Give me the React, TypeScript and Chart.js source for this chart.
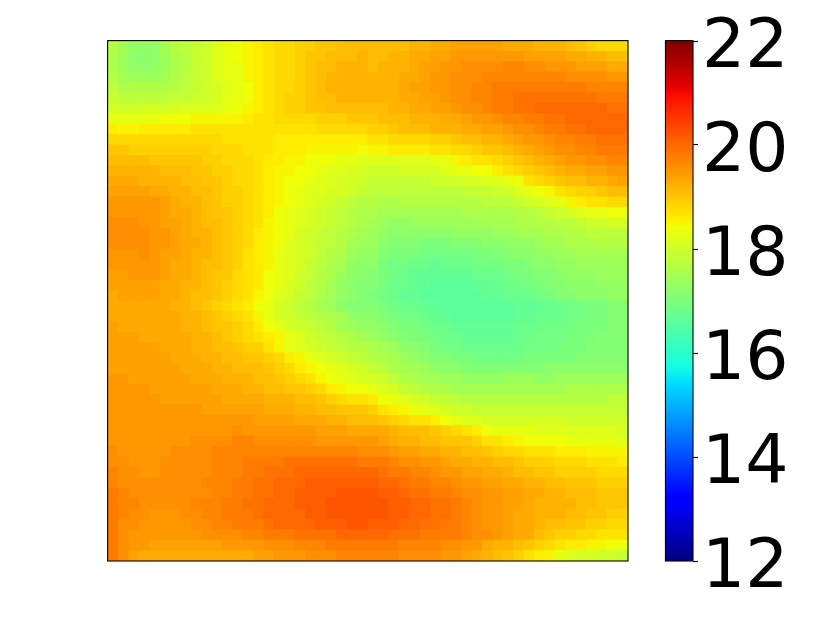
import { useEffect, useRef } from "react";
import { Chart, registerables } from "chart.js";

Chart.register(...registerables);

const colorbarMin = 12;
const colorbarMax = 22;
const colorbarTicks = [12, 14, 16, 18, 20, 22];

// Heat values, in tenths of a unit, 50 x 50 cells, top row first.
const heatTenths: number[][] = [
[177,175,173,173,173,175,177,178,179,180,182,183,184,185,186,187,188,188,189,189,190,190,191,191,191,191,191,191,191,192,192,193,193,194,194,194,194,194,193,193,193,192,192,192,191,190,189,188,188,188],
[176,174,172,172,172,174,176,177,179,180,182,183,184,185,186,187,188,188,189,190,190,191,191,191,192,191,191,192,192,193,193,194,194,195,195,195,195,195,195,195,194,194,194,194,193,193,192,192,191,191],
[176,174,173,172,173,174,176,177,179,180,182,183,183,185,186,187,188,188,189,190,191,191,192,192,192,191,192,192,192,193,194,194,195,195,196,196,196,196,197,197,196,196,195,195,195,194,194,194,193,193],
[177,175,174,174,174,175,176,178,179,180,182,183,183,185,186,187,188,188,189,190,191,192,192,192,192,192,192,192,193,193,194,195,195,196,196,196,197,197,197,197,197,197,197,197,196,196,196,196,195,195],
[178,176,176,176,176,176,177,178,179,180,181,182,183,184,186,187,188,188,189,190,191,192,192,192,192,192,192,192,193,194,194,195,195,196,196,197,197,198,198,198,198,198,198,198,198,198,197,197,197,197],
[179,178,178,178,178,178,179,179,180,180,181,183,183,184,186,187,188,189,189,190,191,191,192,192,192,192,192,192,193,193,194,194,195,196,196,197,197,198,198,199,199,199,199,199,199,199,199,198,198,198],
[181,180,180,181,181,181,181,182,182,182,182,183,184,185,186,187,188,189,189,190,190,191,191,191,191,191,191,192,192,193,193,194,194,195,196,196,197,198,198,199,199,200,200,200,200,200,200,200,199,199],
[183,183,183,183,183,184,184,184,185,185,185,185,185,186,187,187,188,188,188,188,189,189,189,190,190,190,191,191,191,192,192,192,193,193,194,195,195,196,197,197,198,198,199,199,200,200,200,200,200,200],
[186,185,185,186,186,186,186,186,187,187,187,187,187,187,187,187,187,187,187,187,188,188,188,188,188,189,189,190,191,191,191,192,192,192,193,193,194,194,195,196,196,197,198,198,199,199,200,200,200,200],
[188,188,188,188,188,188,188,188,188,188,188,187,187,187,187,187,186,186,186,186,186,186,186,186,186,187,187,188,188,188,188,189,189,190,191,191,192,192,193,194,195,195,196,197,197,198,198,199,199,199],
[190,190,189,189,189,189,189,189,189,189,188,188,188,187,187,187,186,186,186,185,185,185,185,185,184,185,185,186,186,186,186,187,187,188,188,189,190,190,191,192,193,194,195,196,196,197,197,198,198,198],
[191,191,191,191,190,190,190,190,190,189,189,188,188,188,187,186,186,185,185,184,184,184,183,183,182,182,182,182,182,182,182,183,183,185,186,187,187,188,189,190,191,192,193,194,195,195,196,196,197,197],
[192,192,192,192,192,191,191,191,190,190,189,189,188,188,187,186,185,185,184,184,183,182,182,181,181,180,180,180,181,181,181,181,182,183,183,184,184,186,187,188,189,190,191,192,193,193,194,194,195,195],
[193,193,193,192,192,192,192,191,191,190,190,189,188,188,187,186,185,184,184,183,182,182,181,181,180,179,179,179,179,179,179,180,180,180,181,181,182,182,183,184,187,188,189,190,191,191,192,192,193,194],
[194,194,194,194,193,193,192,192,191,191,190,189,189,188,187,186,185,184,183,182,182,181,181,180,179,178,178,178,178,178,178,178,178,178,179,179,179,180,180,182,183,184,185,187,188,189,189,190,191,191],
[195,195,195,195,195,194,193,192,192,191,190,189,189,188,187,186,185,184,183,182,181,180,179,178,177,177,176,176,177,177,177,177,177,177,177,177,178,178,178,179,180,181,182,183,185,186,187,187,188,188],
[195,195,195,195,195,194,193,193,192,191,190,190,189,188,187,186,184,183,182,181,180,179,178,177,176,176,175,175,175,175,175,175,175,175,176,176,176,176,176,177,177,178,179,180,181,182,183,183,184,184],
[196,196,196,195,195,194,194,193,192,191,191,190,189,188,187,185,184,183,182,181,180,179,178,177,176,175,174,173,173,174,174,174,174,174,174,175,175,175,175,176,176,177,177,178,178,179,180,180,181,181],
[196,196,196,196,195,195,194,193,192,192,191,190,189,188,186,185,184,183,181,180,179,178,177,176,175,174,173,172,172,172,172,172,172,173,173,173,173,174,174,175,175,175,176,176,177,177,178,178,178,178],
[196,196,196,196,195,195,194,193,193,192,191,190,189,188,186,185,184,182,181,180,179,178,177,175,174,174,172,171,171,171,170,170,170,171,171,171,172,172,173,173,173,174,175,175,176,176,176,177,177,177],
[195,195,195,196,195,194,194,193,192,192,191,190,189,187,186,185,183,182,181,180,178,177,176,174,173,173,171,170,170,170,169,169,169,169,169,170,170,171,171,172,172,173,173,174,174,175,175,175,175,175],
[195,195,195,195,195,194,193,193,192,191,191,190,189,187,186,185,183,182,181,179,178,176,175,173,172,172,170,169,169,168,168,167,168,168,168,169,169,169,170,170,171,172,172,173,173,174,174,174,174,174],
[194,194,195,195,195,194,193,193,192,191,190,190,188,187,186,184,183,182,180,179,177,176,174,172,172,171,170,169,168,167,167,167,167,167,167,168,168,168,169,170,170,171,171,172,173,173,173,174,174,174],
[194,194,194,194,194,193,193,192,192,191,190,189,188,187,186,184,183,181,180,178,177,175,173,172,171,171,170,168,168,167,167,166,166,166,166,167,167,168,168,169,169,170,171,171,172,172,172,173,173,173],
[193,194,194,194,194,193,193,192,191,191,190,189,188,187,185,184,182,181,179,178,176,175,173,172,171,170,169,168,167,167,166,166,166,166,166,166,167,167,168,168,168,169,170,171,171,172,172,172,173,173],
[193,193,193,193,193,193,192,192,191,190,189,188,187,186,184,183,181,180,178,177,175,174,172,171,171,171,170,169,168,168,167,167,166,166,166,166,166,166,166,167,167,167,168,168,169,169,170,170,171,171],
[193,193,193,193,193,193,193,192,192,191,190,189,188,187,185,183,181,180,179,178,177,176,175,173,172,172,171,170,169,169,168,167,167,166,166,166,166,166,166,167,167,168,168,168,169,169,170,170,171,171],
[194,193,193,193,193,193,193,192,192,191,190,190,189,188,186,184,183,181,180,179,178,177,175,174,173,173,172,171,170,170,169,168,168,167,167,167,167,167,167,168,168,168,169,169,169,170,170,170,171,171],
[194,194,194,193,193,193,193,193,192,192,191,190,189,188,187,186,185,183,182,180,179,178,177,176,175,174,173,172,171,170,170,169,168,168,167,167,167,167,167,168,168,169,169,169,170,170,170,171,171,171],
[194,194,194,194,194,193,193,193,192,192,191,191,190,189,189,187,185,183,182,181,180,179,178,177,177,176,175,174,172,172,171,170,169,169,168,168,168,168,168,168,169,169,169,170,170,170,171,171,171,171],
[194,194,194,194,194,194,193,193,193,192,192,191,191,190,190,189,188,186,185,183,182,181,180,179,178,177,176,175,174,173,172,171,171,170,170,169,169,169,169,169,170,170,170,170,170,171,171,171,171,171],
[194,194,194,194,194,194,194,193,193,193,192,192,191,191,191,190,189,188,186,185,184,183,182,181,180,179,178,176,175,175,174,173,172,172,171,171,171,171,171,171,171,171,172,172,172,172,172,172,172,172],
[195,195,194,194,194,194,194,194,193,193,193,192,192,192,191,191,190,189,188,187,185,184,183,182,181,181,180,178,177,176,175,175,174,174,173,173,173,173,174,174,174,173,173,174,174,174,174,174,174,174],
[195,195,195,195,194,194,194,194,194,194,193,193,193,192,192,191,191,190,190,189,188,186,185,184,184,183,182,181,179,178,177,176,176,175,175,175,175,175,175,175,175,175,175,175,176,176,176,176,176,176],
[195,195,195,195,195,194,194,194,194,194,194,193,193,193,193,192,192,192,191,191,190,189,188,187,187,186,184,183,182,181,180,179,178,178,177,177,177,177,177,177,177,177,177,177,177,177,177,177,178,178],
[195,195,195,195,195,195,195,195,195,194,194,194,194,194,194,193,193,193,192,192,191,191,190,190,190,189,187,186,185,183,183,182,181,180,180,179,179,179,179,179,179,179,179,179,179,179,179,179,179,179],
[195,195,195,195,195,195,195,195,195,195,195,195,195,195,194,194,194,194,193,193,193,192,192,191,191,191,190,189,188,187,187,186,184,183,182,182,181,181,181,181,181,181,181,181,180,180,180,180,180,180],
[195,195,195,195,195,195,195,195,195,195,195,195,196,195,195,195,195,195,195,195,194,194,194,193,193,193,193,192,191,191,191,190,189,188,187,186,184,183,183,183,183,182,182,182,182,182,182,182,182,181],
[195,195,195,195,195,195,195,195,196,196,196,196,197,197,196,196,196,196,196,196,195,195,195,195,195,195,194,193,192,192,191,191,190,190,190,189,187,187,186,185,184,184,184,184,183,183,183,183,183,182],
[196,195,195,195,195,195,196,196,196,196,197,197,197,197,197,197,197,197,197,197,197,197,197,197,196,196,196,195,194,194,193,193,192,192,191,191,190,189,188,188,187,187,187,186,186,186,185,185,185,185],
[196,196,195,195,195,196,196,196,196,196,197,197,197,198,198,198,198,199,199,199,199,199,199,199,198,198,198,197,196,196,195,195,194,193,193,192,192,191,191,190,189,189,189,188,188,188,187,187,187,186],
[197,196,196,195,195,196,196,196,196,196,197,197,197,198,198,199,199,199,200,200,200,200,200,200,200,200,199,198,198,197,197,196,195,195,194,194,193,193,192,191,191,190,190,189,189,189,189,188,188,188],
[197,196,196,196,196,196,196,196,196,197,197,197,198,198,199,199,200,200,200,201,201,201,201,201,201,201,200,200,199,198,198,197,197,196,195,195,194,194,193,193,192,192,191,191,190,190,190,189,189,189],
[198,197,196,196,196,196,196,196,196,196,197,197,198,198,199,199,200,200,201,201,201,201,202,202,202,202,201,201,200,199,199,198,198,197,196,196,195,195,194,194,193,193,192,192,191,191,191,190,190,190],
[198,197,197,196,196,196,196,196,197,197,197,198,198,199,199,200,200,200,201,201,201,202,202,202,202,202,202,201,201,200,200,199,199,198,197,196,195,195,194,194,193,192,192,192,192,191,191,190,190,190],
[198,197,196,196,195,195,195,196,196,197,197,198,198,198,199,200,200,200,200,201,201,202,202,202,202,202,202,201,201,200,200,199,199,198,197,196,195,195,194,193,193,192,192,192,191,191,190,190,189,189],
[198,196,196,195,195,195,195,195,196,196,197,197,198,198,198,199,200,200,200,200,201,201,201,202,202,201,201,201,200,200,199,199,198,198,197,196,195,195,194,193,193,192,191,191,190,190,189,189,188,188],
[198,196,195,195,195,195,195,195,195,196,196,196,196,197,197,198,198,198,199,199,199,199,200,200,200,200,200,199,199,199,198,198,198,198,197,196,196,195,194,193,193,191,190,189,189,188,188,187,187,187],
[198,196,195,195,194,194,194,194,194,194,194,195,195,195,195,196,196,196,197,197,197,198,198,198,198,198,198,198,197,197,197,197,196,196,195,195,193,192,192,191,190,189,188,187,186,186,185,185,184,184],
[198,196,194,193,193,193,193,193,193,193,193,193,193,193,194,194,195,195,195,196,196,196,197,197,197,197,197,197,196,196,196,196,195,195,194,193,192,191,190,189,187,186,185,183,182,181,181,180,180,179],
];

const jetRed: [number, number][] = [[0, 0], [0.35, 0], [0.66, 1], [0.89, 1], [1, 0.5]];
const jetGreen: [number, number][] = [[0, 0], [0.125, 0], [0.375, 1], [0.64, 1], [0.91, 0], [1, 0]];
const jetBlue: [number, number][] = [[0, 0.5], [0.11, 1], [0.34, 1], [0.65, 0], [1, 0]];
const jetStops = [0, 0.11, 0.125, 0.34, 0.35, 0.375, 0.64, 0.65, 0.66, 0.89, 0.91, 1];

function channel(knots: [number, number][], t: number): number {
  for (let i = 1; i < knots.length; i++) {
    if (t <= knots[i][0]) {
      const [a, va] = knots[i - 1];
      const [b, vb] = knots[i];
      return Math.round(255 * (va + ((vb - va) * (t - a)) / (b - a)));
    }
  }
  return Math.round(255 * knots[knots.length - 1][1]);
}

function jet(t: number): string {
  return `rgb(${channel(jetRed, t)},${channel(jetGreen, t)},${channel(jetBlue, t)})`;
}

const cellCount = heatTenths.length;
const heatPoints = heatTenths.flatMap((row, r) =>
  row.map((v, c) => ({ x: c + 0.5, y: r + 0.5, v: v / 10 }))
);

// Horizontal extent of the x scale: cells occupy 0..50, the colour bar sits to their right.
const xExtent = 56.25;
const barLeft = 53.64;

const framePlugin = {
  id: "frameAndBar",
  afterDatasetsDraw(chart: any) {
    const { ctx, chartArea, scales } = chart;
    const x = scales.x;
    const heatL = x.getPixelForValue(0);
    const heatR = x.getPixelForValue(cellCount);
    const top = chartArea.top;
    const bottom = chartArea.bottom;
    const barL = x.getPixelForValue(barLeft);
    const barR = chartArea.right;

    const grad = ctx.createLinearGradient(0, bottom, 0, top);
    jetStops.forEach((s) => grad.addColorStop(s, jet(s)));
    ctx.save();
    ctx.fillStyle = "#fff";
    ctx.fillRect(heatR + 0.3, top - 1, 6, bottom - top + 2);
    ctx.fillStyle = grad;
    ctx.fillRect(barL, top, barR - barL, bottom - top);
    ctx.strokeStyle = "#000";
    ctx.lineWidth = 1.1;
    ctx.strokeRect(heatL - 0.4, top - 0.4, heatR - heatL + 0.4, bottom - top + 0.4);
    ctx.strokeRect(barL - 0.4, top - 0.4, barR - barL + 0.4, bottom - top + 0.4);
    ctx.restore();
  },
};

export default function App() {
  const ref = useRef<HTMLCanvasElement | null>(null);

  useEffect(() => {
    if (!ref.current) return;
    const chart = new Chart(ref.current, {
      type: "scatter",
      data: {
        datasets: [
          {
            label: "heat",
            data: heatPoints,
            pointStyle: "rect",
            pointRadius: 8.06,
            pointHoverRadius: 8.06,
            pointBorderWidth: 0,
            pointBackgroundColor: heatPoints.map((p) =>
              jet((p.v - colorbarMin) / (colorbarMax - colorbarMin))
            ),
          },
        ],
      },
      options: {
        responsive: false,
        animation: false,
        events: [],
        layout: { padding: { left: 108, right: 0, top: 41, bottom: 56 } },
        plugins: { legend: { display: false }, tooltip: { enabled: false } },
        scales: {
          x: { type: "linear", min: 0, max: xExtent, display: false },
          y: { type: "linear", min: 0, max: cellCount, reverse: true, display: false },
          cb: {
            type: "linear",
            position: "right",
            min: colorbarMin,
            max: colorbarMax,
            afterFit: (s: any) => {
              s.width = 129;
            },
            afterBuildTicks: (s: any) => {
              s.ticks = colorbarTicks.map((value) => ({ value }));
            },
            grid: {
              drawOnChartArea: false,
              drawTicks: true,
              tickLength: 5,
              tickWidth: 1.1,
              tickColor: "#000",
            },
            border: { display: false },
            ticks: {
              color: "#000",
              padding: 4,
              labelOffset: 8,
              autoSkip: false,
              maxRotation: 0,
              font: { family: "'DejaVu Sans'", size: 68, lineHeight: 1 },
            },
          },
        },
      },
      plugins: [framePlugin],
    } as any);
    return () => chart.destroy();
  }, []);

  return (
    <div style={{ position: "absolute", left: 0, top: 0, width: 822, height: 617, background: "#fff" }}>
      <canvas ref={ref} width={822} height={617} style={{ display: "block" }} />
    </div>
  );
}
